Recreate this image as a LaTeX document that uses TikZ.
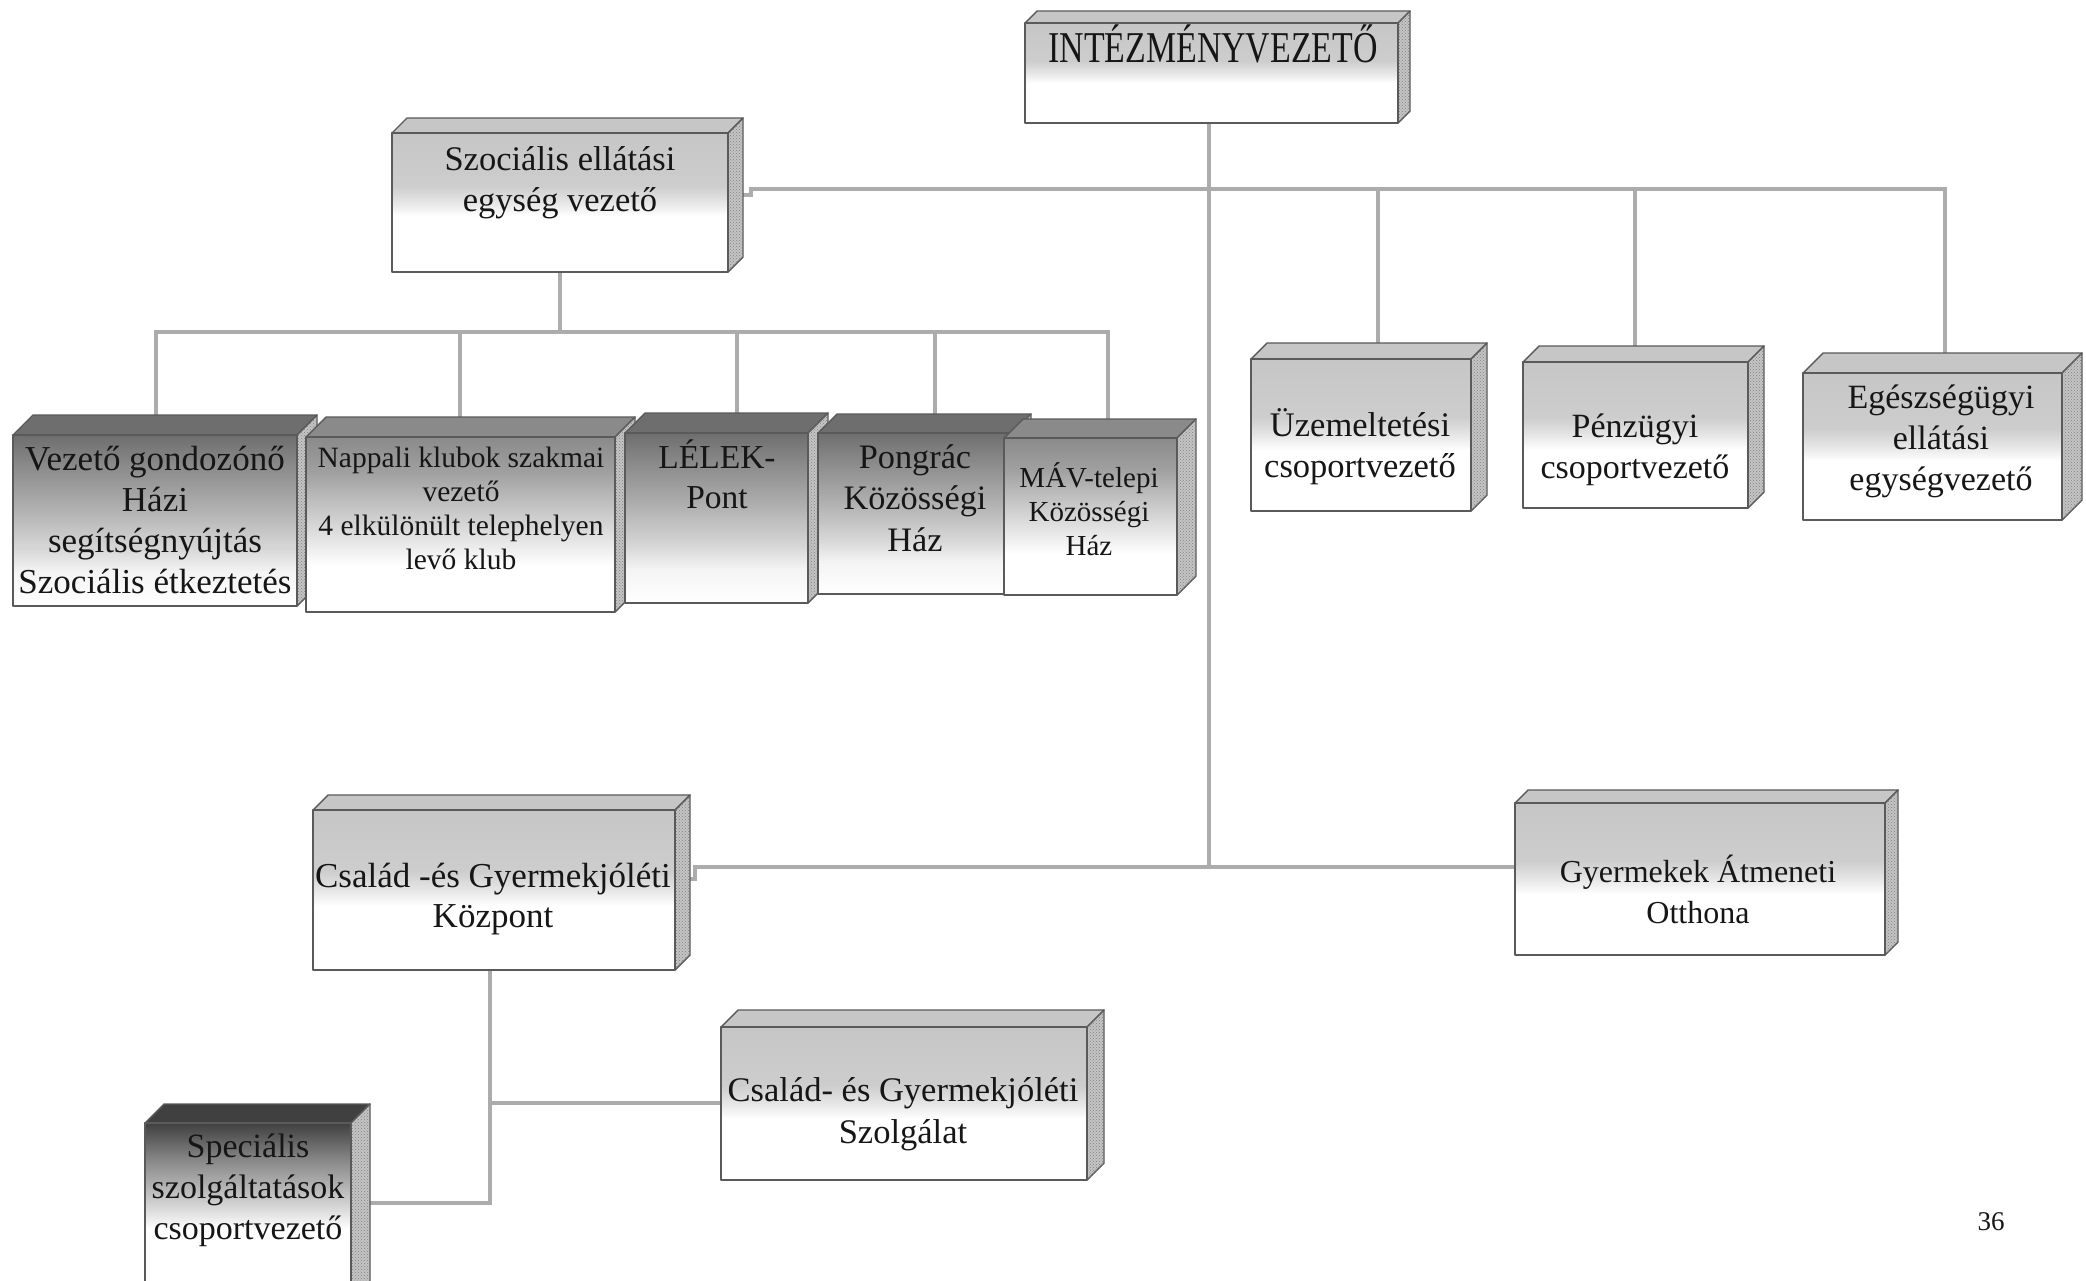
\documentclass[tikz,border=0pt]{standalone}
\usepackage{fontspec}
\setmainfont{Liberation Serif}
\usepackage{graphicx}
\usetikzlibrary{patterns}
\pgfdeclarelayer{bottomlayer}
\pgfdeclarelayer{background}
\pgfsetlayers{bottomlayer,background,main}
\definecolor{boxlight}{HTML}{C6C6C6}
\definecolor{lightA}{HTML}{CDCDCD}
\definecolor{lightB}{HTML}{E6E6E6}
\definecolor{boxmid}{HTML}{8A8A8A}
\definecolor{midA}{HTML}{A0A0A0}
\definecolor{midB}{HTML}{CFCFCF}
\definecolor{boxdark}{HTML}{6E6E6E}
\definecolor{darkA}{HTML}{8C8C8C}
\definecolor{darkB}{HTML}{B0B0B0}
\definecolor{darkC}{HTML}{D8D8D8}
\definecolor{darkD}{HTML}{F4F4F4}
\definecolor{boxdarkest}{HTML}{404040}
\definecolor{dstA}{HTML}{888888}
\definecolor{dstB}{HTML}{CCCCCC}
\definecolor{boxedge}{HTML}{5A5A5A}
\definecolor{sidegray}{HTML}{C4C4C4}
\definecolor{sidedot}{HTML}{808080}
\definecolor{conngray}{HTML}{ACACAC}
\definecolor{textcol}{HTML}{161616}
\pgfdeclareverticalshading{lightshade}{100bp}{color(0bp)=(white); color(25bp)=(white); color(45bp)=(white); color(50bp)=(lightB); color(56bp)=(lightA); color(75bp)=(boxlight); color(100bp)=(boxlight)}
\pgfdeclareverticalshading{midshade}{100bp}{color(0bp)=(white); color(25bp)=(white); color(38bp)=(white); color(52bp)=(midB); color(65bp)=(midA); color(75bp)=(boxmid); color(100bp)=(boxmid)}
\pgfdeclareverticalshading{darkshade}{100bp}{color(0bp)=(white); color(25bp)=(white); color(35bp)=(darkD); color(41.5bp)=(darkC); color(53.5bp)=(darkB); color(65.5bp)=(darkA); color(75bp)=(boxdark); color(100bp)=(boxdark)}
\pgfdeclareverticalshading{darkestshade}{100bp}{color(0bp)=(white); color(25bp)=(white); color(45bp)=(white); color(53bp)=(dstB); color(64.5bp)=(dstA); color(75bp)=(boxdarkest); color(100bp)=(boxdarkest)}
\tikzset{
  boxline/.style={draw=boxedge, line width=1.4pt, line join=round},
  frontface/.style={boxline, shade, rectangle, inner sep=0pt, outer sep=0pt},
  sideface/.style={boxline, fill=sidegray, postaction={pattern=crosshatch dots, pattern color=sidedot}},
  conn/.style={draw=conngray, line width=4.5pt},
  lbl/.style={anchor=base, inner sep=0pt, outer sep=0pt, text=textcol},
}
% name, x1, y1, x2, y2, depth, shading, top colour
\newcommand\orgbox[8]{%
  \path[boxline, fill=#8] (#2,#3) -- ({#2+#6},{#3-#6}) -- ({#4+#6},{#3-#6}) -- (#4,#3) -- cycle;
  \path[sideface] (#4,#3) -- ({#4+#6},{#3-#6}) -- ({#4+#6},{#5-#6}) -- (#4,#5) -- cycle;
  \node[frontface, shading=#7, minimum width={(#4-#2)*1pt}, minimum height={(#5-#3)*1pt}] (#1) at ({(#2+#4)/2},{(#3+#5)/2}) {};
}
% name, x, first baseline, font size, line skip, xscale, lines
\newcommand\orgtext[7]{%
  \node[lbl] (#1) at (#2,#3) {\scalebox{#6}[1]{\fontsize{#4}{#5}\selectfont\begin{tabular}[t]{@{}c@{}}#7\end{tabular}}};
}
\begin{document}
\begin{tikzpicture}[x=1pt,y=-1pt]
\useasboundingbox (0,0) rectangle (2086,1280);
\clip (0,0) rectangle (2086,1280);
\begin{pgfonlayer}{bottomlayer}
  \fill[white] (0,0) rectangle (2086,1280);
\end{pgfonlayer}

\orgbox{b0}{1025}{23}{1398}{123}{12}{lightshade}{boxlight}
\orgtext{t0}{1213}{62}{44}{50}{0.77}{INTÉZMÉNYVEZETŐ}

\orgbox{b1}{392}{133}{728}{272}{15}{lightshade}{boxlight}
\orgtext{t1}{560}{170}{34.5}{41}{1}{Szociális ellátási\\egység vezető}

\orgbox{b2}{13}{435}{297}{606}{20}{darkshade}{boxdark}
\orgtext{t2}{155}{470}{35}{41.3}{1}{Vezető gondozónő\\Házi\\segítségnyújtás\\Szociális étkeztetés}

\orgbox{b3}{306}{437}{615}{612}{20}{midshade}{boxmid}
\orgtext{t3}{461}{467}{29.5}{34.2}{1}{Nappali klubok szakmai\\vezető\\4 elkülönült telephelyen\\levő klub}

\orgbox{b4}{625}{433}{808}{603}{20}{darkshade}{boxdark}
\orgtext{t4}{717}{468}{33.5}{40.5}{1}{LÉLEK-\\Pont}

\orgbox{b5}{818}{433}{1012}{594}{19}{darkshade}{boxdark}
\orgtext{t5}{915}{468}{34.3}{41.5}{1}{Pongrác\\Közösségi\\Ház}

\orgbox{b6}{1004}{438}{1177}{595}{19}{midshade}{boxmid}
\orgtext{t6}{1089}{487}{29}{34.3}{1}{MÁV-telepi\\Közösségi\\Ház}

\orgbox{b7}{1251}{359}{1471}{511}{16}{lightshade}{boxlight}
\orgtext{t7}{1360}{436}{34.5}{41}{1}{Üzemeltetési\\csoportvezető}

\orgbox{b8}{1523}{362}{1748}{508}{16}{lightshade}{boxlight}
\orgtext{t8}{1635}{437}{34}{41.3}{1}{Pénzügyi\\csoportvezető}

\orgbox{b9}{1803}{373}{2062}{520}{20}{lightshade}{boxlight}
\orgtext{t9}{1941}{408}{34}{41}{1}{Egészségügyi\\ellátási\\egységvezető}

\orgbox{b10}{313}{810}{675}{970}{15}{lightshade}{boxlight}
\orgtext{t10}{493}{887}{35}{40}{1}{Család -és Gyermekjóléti\\Központ}

\orgbox{b11}{1515}{803}{1885}{955}{13}{lightshade}{boxlight}
\orgtext{t11}{1698}{882}{32}{41}{1}{Gyermekek Átmeneti\\Otthona}

\orgbox{b12}{721}{1027}{1087}{1180}{17}{lightshade}{boxlight}
\orgtext{t12}{903}{1101}{34.5}{42}{1}{Család- és Gyermekjóléti\\Szolgálat}

\orgbox{b13}{145}{1123}{351}{1300}{19}{darkestshade}{boxdarkest}
\orgtext{t13}{248}{1157}{34}{41}{1}{Speciális\\szolgáltatások\\csoportvezető}

\node[lbl, font=\fontsize{27}{30}\selectfont] (pg) at (1991,1230) {36};

\begin{pgfonlayer}{background}
  % top level
  \coordinate (jm) at (1209,867);
  \draw[conn] (b0.south -| jm) -- (jm);
  \coordinate (s1) at (736,195);
  \coordinate (k1) at (751,189);
  \coordinate (d7) at (1378,189);
  \coordinate (d8) at (1635,189);
  \coordinate (d9) at (1945,189);
  \draw[conn] (s1) -| (k1) -- (d9) -- (d9 |- b9.north);
  \draw[conn] (d7) -- (d7 |- b7.north);
  \draw[conn] (d8) -- (d8 |- b8.north);
  % social unit
  \coordinate (m2) at (560,332);
  \coordinate (d2) at (156,332);
  \coordinate (d3) at (460,332);
  \coordinate (d4) at (737,332);
  \coordinate (d5) at (935,332);
  \coordinate (d6) at (1108,332);
  \draw[conn] (b1.south -| m2) -- (m2);
  \draw[conn] (d2 |- b2.north) -- (d2) -- (d6) -- (d6 |- b6.north);
  \draw[conn] (d3) -- (d3 |- b3.north);
  \draw[conn] (d4) -- (d4 |- b4.north);
  \draw[conn] (d5) -- (d5 |- b5.north);
  % middle level
  \coordinate (s10) at (683,879);
  \coordinate (k10) at (695,867);
  \draw[conn] (s10) -| (k10) -- (k10 -| b11.west);
  % lower level
  \coordinate (jc) at (490,1103);
  \coordinate (jb) at (490,1203);
  \draw[conn] (b10.south -| jb) -- (jb) -- (jb -| b13.east);
  \draw[conn] (jc) -- (jc -| b12.west);
\end{pgfonlayer}
\end{tikzpicture}
\end{document}
